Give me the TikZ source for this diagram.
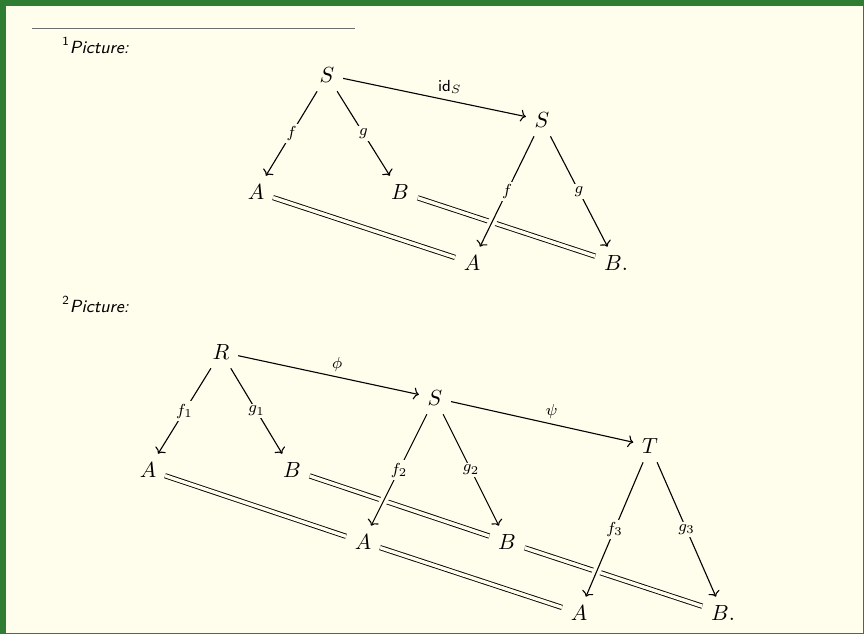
\documentclass[tikz,border=0pt]{standalone}
\usepackage{amsmath, amssymb}
\usetikzlibrary{arrows.meta}
\definecolor{frameGreen}{RGB}{46, 125, 50}
\definecolor{paperYellow}{RGB}{255, 253, 235}
\definecolor{ruleGray}{RGB}{110, 110, 110}
\tikzset{
  obj/.style={inner sep=4.2pt, font=\fontsize{11}{13}\selectfont},
  map/.style={line width=0.55pt, -{To[length=2.6pt,width=6pt]}},
  over/.style={preaction={draw, paperYellow, line width=4pt, -}},
  eq/.style={double=paperYellow, double distance=1.7pt, line width=0.45pt},
  desc/.style={fill=paperYellow, inner sep=1.2pt, font=\fontsize{8.5}{10}\selectfont},
  lbl/.style={anchor=south west, inner sep=1.5pt, font=\fontsize{8.5}{10}\selectfont},
  note/.style={anchor=base west, inner sep=0pt, font=\sffamily\itshape\fontsize{8.8}{10}\selectfont},
}

\begin{document}
\begin{tikzpicture}[x=0.5pt, y=-0.5pt]
  % page and frame
  \fill[paperYellow] (0,0) rectangle (864,634);
  \fill[frameGreen] (0,0) rectangle (864,6);
  \fill[frameGreen] (0,0) rectangle (6,634);
  \fill[frameGreen] (0,632.5) rectangle (864,634);
  \fill[frameGreen] (863,0) rectangle (864,634);
  \useasboundingbox (0,0) rectangle (864,634);
  \draw[ruleGray, line width=0.5pt] (32,28) -- (355,28);

  \node[note] (pic1) at (62,53) {{\upshape\textsuperscript{1}}Picture:};
  \node[note] (pic2) at (62,312) {{\upshape\textsuperscript{2}}Picture:};

  % first picture
  \node[obj] (S1) at (327,75) {$S$};
  \node[obj] (S2) at (542,120) {$S$};
  \node[obj] (A1) at (256,192) {$A$};
  \node[obj] (B1) at (400,192) {$B$};
  \node[obj] (A2) at (472,263) {$A$};
  \node[obj] (B2) at (616,263) {$B.$};
  \draw[eq] (A1) -- (A2);
  \draw[eq] (B1) -- (B2);
  \draw[map] (S1) -- node[lbl] {$\mathsf{id}_S$} (S2);
  \draw[map] (S1) -- node[desc] {$f$} (A1);
  \draw[map] (S1) -- node[desc] {$g$} (B1);
  \draw[map, over] (S2) -- node[desc] {$f$} (A2);
  \draw[map] (S2) -- node[desc] {$g$} (B2);

  % second picture
  \node[obj] (R) at (221,352) {$R$};
  \node[obj] (S) at (435,398) {$S$};
  \node[obj] (T) at (650,446) {$T$};
  \node[obj] (RA) at (148,470) {$A$};
  \node[obj] (RB) at (292,470) {$B$};
  \node[obj] (SA) at (363,542) {$A$};
  \node[obj] (SB) at (507,542) {$B$};
  \node[obj] (TA) at (579,613) {$A$};
  \node[obj] (TB) at (723,613) {$B.$};
  \draw[eq] (RA) -- (SA);
  \draw[eq] (SA) -- (TA);
  \draw[eq] (RB) -- (SB);
  \draw[eq] (SB) -- (TB);
  \draw[map] (R) -- node[lbl] {$\phi$} (S);
  \draw[map] (S) -- node[lbl] {$\psi$} (T);
  \draw[map] (R) -- node[desc] {$f_1$} (RA);
  \draw[map] (R) -- node[desc] {$g_1$} (RB);
  \draw[map, over] (S) -- node[desc] {$f_2$} (SA);
  \draw[map] (S) -- node[desc] {$g_2$} (SB);
  \draw[map, over] (T) -- node[desc] {$f_3$} (TA);
  \draw[map] (T) -- node[desc] {$g_3$} (TB);
\end{tikzpicture}
\end{document}
